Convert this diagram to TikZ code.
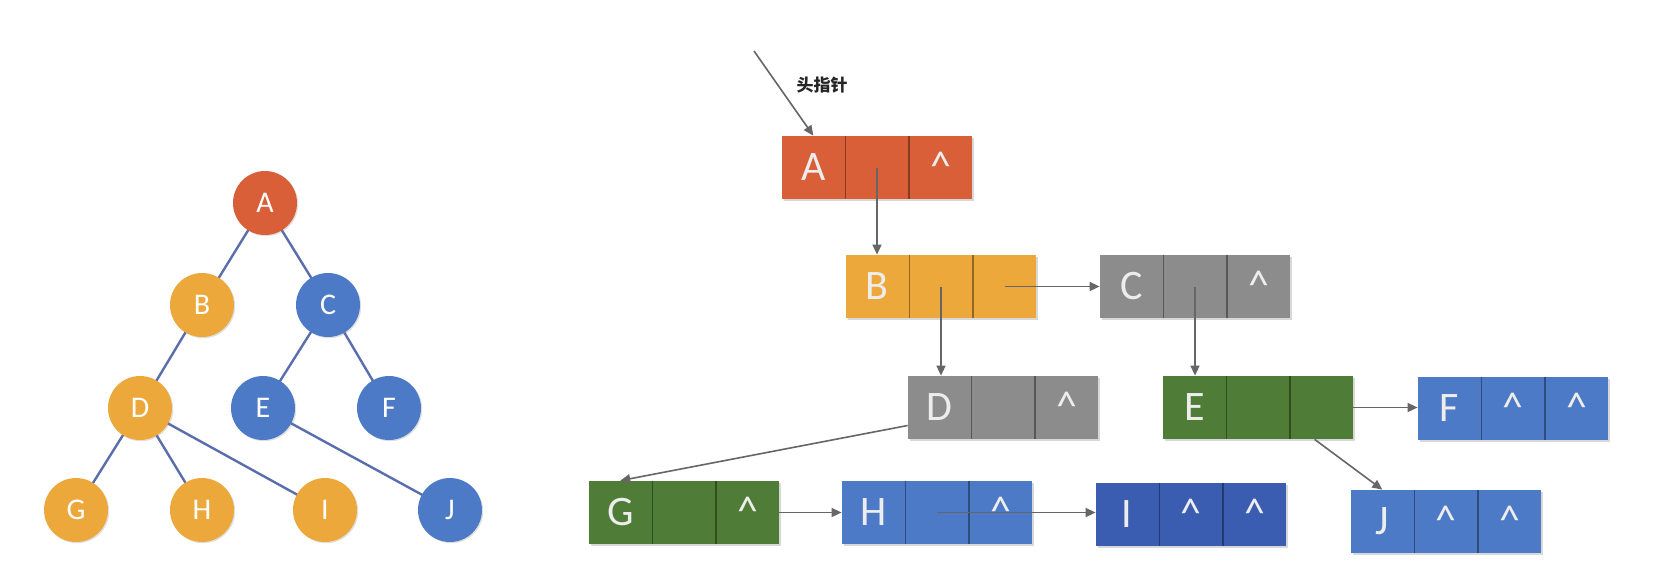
\documentclass[tikz,border=0pt]{standalone}
\usepackage{fontspec}
\setmainfont{Carlito}
\newfontfamily\cjk{Noto Sans CJK SC}
\usetikzlibrary{calc,arrows.meta,shadows}
\definecolor{cRed}{HTML}{D95F38}
\definecolor{cOrg}{HTML}{EDA83C}
\definecolor{cGry}{HTML}{8C8C8C}
\definecolor{cGrn}{HTML}{4F7C36}
\definecolor{cBlu}{HTML}{4C7AC6}
\definecolor{cNav}{HTML}{3A5DB2}
\definecolor{cEdge}{HTML}{5A6EAE}
\definecolor{cArr}{HTML}{666666}
\newcommand{\lnode}[7]{%
  \node[lbox, fill=#4] (#1) at (#2,#3) {};
  \node[cell] (#11) at ($(#1.west)+(31.67,0)$) {#5};
  \node[cell] (#12) at (#1.center) {#6};
  \node[cell] (#13) at ($(#1.east)+(-31.67,0)$) {#7};
  \draw[div=#4] (#11.north east) -- (#11.south east);
  \draw[div=#4] (#12.north east) -- (#12.south east);
}
\begin{document}
\begin{tikzpicture}[x=0.5pt,y=-0.5pt,
  circ/.style={circle, minimum size=32pt, inner sep=0pt, text=white,
    font=\fontsize{15}{15}\selectfont,
    drop shadow={opacity=0.25, shadow xshift=0.6pt, shadow yshift=-0.6pt}},
  tedge/.style={draw=cEdge, line width=1.2pt},
  lbox/.style={rectangle, minimum width=95pt, minimum height=31.5pt, inner sep=0pt,
    draw=none, drop shadow={opacity=0.3, shadow xshift=0.8pt, shadow yshift=-0.8pt}},
  cell/.style={rectangle, minimum width=31.67pt, minimum height=31.5pt, inner sep=0pt,
    text=white!93!black, font=\fontsize{21}{21}\selectfont, text height=13.3pt, text depth=0pt},
  div/.style={draw=#1!62!black, line width=0.8pt},
  arr/.style={draw=cArr, line width=0.8pt, -{Triangle[length=5pt,width=4.5pt]}},
]
\fill[white] (0,0) rectangle (1664,580);
\useasboundingbox (0,0) rectangle (1664,580);

% ---- left tree ----
\draw[tedge] (265,203) -- (202,305);
\draw[tedge] (265,203) -- (328,305);
\draw[tedge] (202,305) -- (140,408);
\draw[tedge] (328,305) -- (263,408);
\draw[tedge] (328,305) -- (389,408);
\draw[tedge] (140,408) -- (76,510);
\draw[tedge] (140,408) -- (202,510);
\draw[tedge] (140,408) -- (325,510);
\draw[tedge] (263,408) -- (450,510);
\node[circ, fill=cRed] (tA) at (265,203) {A};
\node[circ, fill=cOrg] (tB) at (202,305) {B};
\node[circ, fill=cBlu] (tC) at (328,305) {C};
\node[circ, fill=cOrg] (tD) at (140,408) {D};
\node[circ, fill=cBlu] (tE) at (263,408) {E};
\node[circ, fill=cBlu] (tF) at (389,408) {F};
\node[circ, fill=cOrg] (tG) at (76,510) {G};
\node[circ, fill=cOrg] (tH) at (202,510) {H};
\node[circ, fill=cOrg] (tI) at (325,510) {I};
\node[circ, fill=cBlu] (tJ) at (450,510) {J};

% ---- linked lists ----
\lnode{lA}{877}{167.5}{cRed}{A}{}{\textasciicircum}
\lnode{lB}{941}{286.5}{cOrg}{B}{}{}
\lnode{lC}{1195}{286.5}{cGry}{C}{}{\textasciicircum}
\lnode{lD}{1003}{407.5}{cGry}{D}{}{\textasciicircum}
\lnode{lE}{1258}{407.5}{cGrn}{E}{}{}
\lnode{lF}{1513}{408.5}{cBlu}{F}{\textasciicircum}{\textasciicircum}
\lnode{lG}{684}{512.5}{cGrn}{G}{}{\textasciicircum}
\lnode{lH}{937}{512.5}{cBlu}{H}{}{\textasciicircum}
\lnode{lI}{1191}{514.5}{cNav}{I}{\textasciicircum}{\textasciicircum}
\lnode{lJ}{1446}{521.5}{cBlu}{J}{\textasciicircum}{\textasciicircum}

\node[font=\cjk\bfseries\fontsize{8.5}{8.5}\selectfont, text=black!85] (hlabel) at (822,85) {头指针};
\coordinate (hp) at (754,51);
\draw[arr] (hp) -- (lA1.north);
\draw[arr] (lA2.center) -- (lA2.center |- lB1.north);
\draw[arr] (lB2.center) -- (lB2.center |- lD1.north);
\draw[arr] (lB3.center) -- (lB3.center -| lC.west);
\draw[arr] (lC2.center) -- (lC2.center |- lE1.north);
\draw[arr] ($(lD.west)+(0,18)$) -- (lG1.north);
\draw[arr] (lE.east) -- (lE.east -| lF.west);
\draw[arr] ($(lE3.south west)+(25,0)$) -- (lJ1.north);
\draw[arr] (lG.east) -- (lG.east -| lH.west);
\draw[arr] (lH2.center) -- (lH2.center -| lI.west);
\end{tikzpicture}
\end{document}
